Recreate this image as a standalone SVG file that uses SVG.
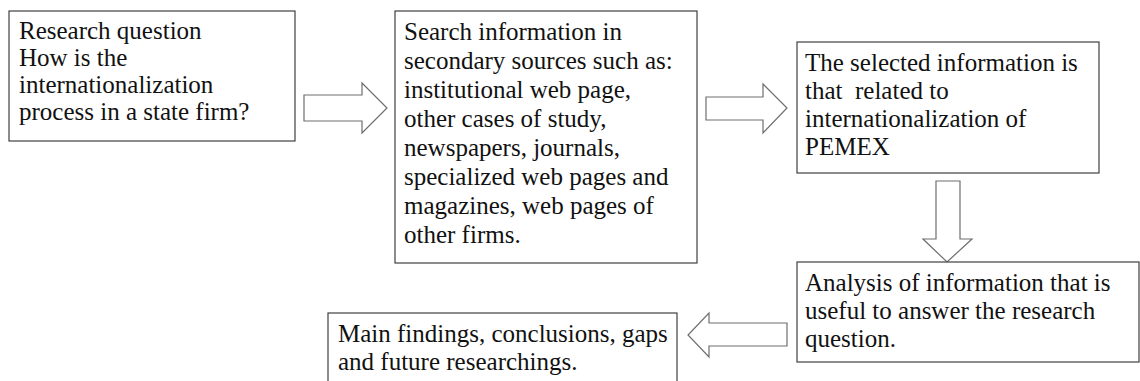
<svg xmlns="http://www.w3.org/2000/svg" width="1140" height="381" viewBox="0 0 1140 381">
  <style>
    .box { fill: #ffffff; stroke: #404040; stroke-width: 1.2; }
    .arrow { fill: #ffffff; stroke: #6e6e6e; stroke-width: 1.2; stroke-linejoin: miter; }
    text { font-family: "Liberation Serif", "Times New Roman", Times, serif; font-size: 25px; fill: #111111; }
  </style>
  <rect width="1140" height="381" fill="#ffffff"/>

  <g id="connectors">
    <polygon class="arrow" points="304,95 362,95 362,83 387,108 362,133 362,121 304,121"/>
    <polygon class="arrow" points="706,97 763,97 763,84 787,108 763,133 763,120 706,120"/>
    <polygon class="arrow" points="936,181 960,181 960,239 972,239 947,262 923,239 936,239"/>
    <polygon class="arrow" points="787,323 709,323 709,313 688,335 709,357 709,346 787,346"/>
  </g>

  <g id="research-question">
    <rect class="box" x="9" y="11" width="286" height="130"/>
    <text x="19" y="39">Research question</text>
    <text x="19" y="66">How is the</text>
    <text x="19" y="93">internationalization</text>
    <text x="19" y="120">process in a state firm?</text>
  </g>

  <g id="search-sources">
    <rect class="box" x="395" y="11" width="302" height="252"/>
    <text x="404" y="40">Search information in</text>
    <text x="404" y="69">secondary sources such as:</text>
    <text x="404" y="98">institutional web page,</text>
    <text x="404" y="127">other cases of study,</text>
    <text x="404" y="156">newspapers, journals,</text>
    <text x="404" y="185">specialized web pages and</text>
    <text x="404" y="214">magazines, web pages of</text>
    <text x="404" y="243">other firms.</text>
  </g>

  <g id="selected-information">
    <rect class="box" x="797" y="42" width="302" height="131"/>
    <text x="805" y="71">The selected information is</text>
    <text x="805" y="99" xml:space="preserve">that  related to</text>
    <text x="805" y="127">internationalization of</text>
    <text x="805" y="155">PEMEX</text>
  </g>

  <g id="analysis">
    <rect class="box" x="797" y="262" width="342" height="100"/>
    <text x="805" y="291">Analysis of information that is</text>
    <text x="805" y="319">useful to answer the research</text>
    <text x="805" y="347">question.</text>
  </g>

  <g id="findings">
    <rect class="box" x="328" y="313" width="349" height="90"/>
    <text x="338" y="342">Main findings, conclusions, gaps</text>
    <text x="338" y="370">and future researchings.</text>
  </g>
</svg>
